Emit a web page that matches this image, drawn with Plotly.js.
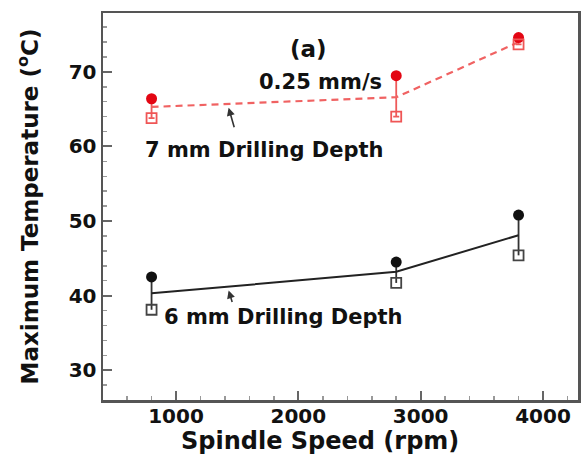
<!DOCTYPE html>
<html>
<head>
<meta charset="utf-8">
<script src="https://cdn.plot.ly/plotly-3.0.1.min.js"></script>
<style>html,body{margin:0;padding:0;background:#fff;}#chart{width:586px;height:457px;}</style>
</head>
<body>
<div id="chart"></div>
<script>
// Data
var speed = [800, 2800, 3800];
var red7Max = [66.4, 69.5, 74.6];
var red7Mean = [65.3, 66.6, 74.0];
var red7Min = [63.8, 64.0, 73.7];
var blk6Max = [42.5, 44.5, 50.8];
var blk6Mean = [40.3, 43.2, 48.1];
var blk6Min = [38.1, 41.7, 45.4];
var xTicks = [1000, 2000, 3000, 4000];
var yTicks = [30, 40, 50, 60, 70];

function diff(a, b) { return a.map(function (v, i) { return +(v - b[i]).toFixed(2); }); }

var fontFam = 'DejaVu Sans, Arial, sans-serif';
var redLine = '#f06262';
var redDot = '#e30613';

var traces = [
  {
    x: speed, y: red7Mean, mode: 'lines', type: 'scatter',
    line: {color: redLine, width: 2.2, dash: '7px,5px'},
    error_y: {type: 'data', symmetric: false, array: diff(red7Max, red7Mean), arrayminus: diff(red7Mean, red7Min),
      color: '#ee5a5a', thickness: 1.8, width: 3}
  },
  {
    x: speed, y: red7Max, mode: 'markers', type: 'scatter',
    marker: {symbol: 'circle', size: 11, color: redDot}
  },
  {
    x: speed, y: red7Min, mode: 'markers', type: 'scatter',
    marker: {symbol: 'square-open', size: 10, color: '#ef5555', line: {width: 1.8, color: '#ef5555'}}
  },
  {
    x: speed, y: blk6Mean, mode: 'lines', type: 'scatter',
    line: {color: '#222', width: 2},
    error_y: {type: 'data', symmetric: false, array: diff(blk6Max, blk6Mean), arrayminus: diff(blk6Mean, blk6Min),
      color: '#333', thickness: 1.8, width: 0}
  },
  {
    x: speed, y: blk6Max, mode: 'markers', type: 'scatter',
    marker: {symbol: 'circle', size: 11, color: '#111'}
  },
  {
    x: speed, y: blk6Min, mode: 'markers', type: 'scatter',
    marker: {symbol: 'square-open', size: 10, color: '#444', line: {width: 1.8, color: '#444'}}
  }
];

var annFont = {family: fontFam, size: 21, color: '#111', weight: 'bold'};
function px(x) { return (x - 103) / 475; }
function py(y) { return (400 - y) / 387; }
var layout = {
  width: 586, height: 457,
  margin: {l: 103, r: 8, t: 13, b: 57},
  paper_bgcolor: '#fff', plot_bgcolor: '#fff',
  showlegend: false,
  xaxis: {
    range: [403, 4286], tickvals: xTicks, ticktext: xTicks.map(String),
    ticks: 'inside', ticklen: 9, tickwidth: 2, tickcolor: '#666',
    minor: {dtick: 200, tick0: 0, ticks: 'inside', ticklen: 4, tickwidth: 1.5, tickcolor: '#999'},
    showgrid: false, zeroline: false,
    showline: true, mirror: true, linecolor: '#555', linewidth: 2.5,
    ticklabelstandoff: -4,
    tickfont: {family: fontFam, size: 20, color: '#111', weight: 'bold'}
  },
  yaxis: {
    range: [26.0, 77.9], tickvals: yTicks, ticktext: yTicks.map(String),
    ticks: 'inside', ticklen: 9, tickwidth: 2, tickcolor: '#666',
    minor: {dtick: 2, tick0: 0, ticks: 'inside', ticklen: 4, tickwidth: 1.5, tickcolor: '#999'},
    showgrid: false, zeroline: false,
    showline: true, mirror: true, linecolor: '#555', linewidth: 2.5,
    tickfont: {family: fontFam, size: 20, color: '#111', weight: 'bold'},
    title: {text: 'Maximum Temperature (<sup>o</sup>C)', font: {family: fontFam, size: 23, color: '#111', weight: 'bold'}, standoff: 24}
  },
  annotations: [
    {xref: 'paper', yref: 'paper', x: px(320), y: py(441), xanchor: 'center', yanchor: 'middle',
      text: 'Spindle Speed (rpm)', showarrow: false, font: {family: fontFam, size: 24, color: '#111', weight: 'bold'}},
    {xref: 'paper', yref: 'paper', x: px(308), y: py(49), xanchor: 'center', yanchor: 'middle', text: '(a)', showarrow: false,
      font: {family: fontFam, size: 23, color: '#111', weight: 'bold'}},
    {xref: 'paper', yref: 'paper', x: px(320), y: py(82), xanchor: 'center', yanchor: 'middle', text: '0.25 mm/s', showarrow: false, font: annFont},
    {xref: 'paper', yref: 'paper', x: px(264), y: py(150), xanchor: 'center', yanchor: 'middle', text: '7 mm Drilling Depth', showarrow: false, font: annFont},
    {xref: 'paper', yref: 'paper', x: px(283), y: py(317), xanchor: 'center', yanchor: 'middle', text: '6 mm Drilling Depth', showarrow: false, font: annFont},
    {x: 1430, y: 65.2, xref: 'x', yref: 'y', text: '', showarrow: true, ax: 6, ay: 21,
      arrowhead: 2, arrowsize: 1, arrowwidth: 1.6, arrowcolor: '#333', standoff: 0, startstandoff: 0},
    {x: 1430, y: 40.7, xref: 'x', yref: 'y', text: '', showarrow: true, ax: 4, ay: 13,
      arrowhead: 2, arrowsize: 1, arrowwidth: 1.6, arrowcolor: '#333', standoff: 0, startstandoff: 0}
  ]
};

Plotly.newPlot('chart', traces, layout, {displayModeBar: false, staticPlot: true});
</script>
</body>
</html>
